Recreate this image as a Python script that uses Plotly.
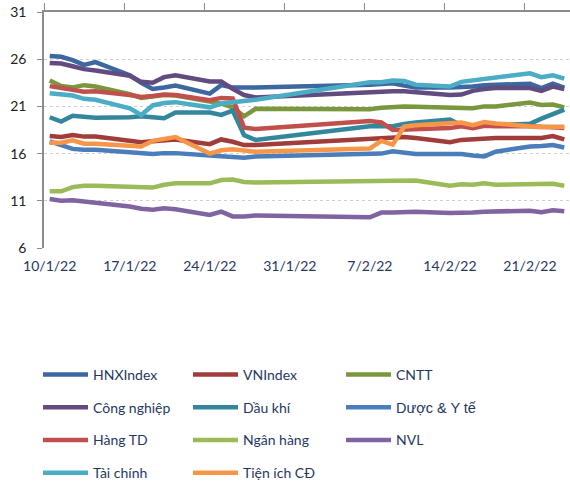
import plotly.graph_objects as go
import pandas as pd

dates = ["2022-01-10", "2022-01-11", "2022-01-12", "2022-01-13", "2022-01-14",
         "2022-01-17", "2022-01-18", "2022-01-19", "2022-01-20", "2022-01-21",
         "2022-01-24", "2022-01-25", "2022-01-26", "2022-01-27", "2022-01-28",
         "2022-02-07", "2022-02-08", "2022-02-09", "2022-02-10", "2022-02-11",
         "2022-02-14", "2022-02-15", "2022-02-16", "2022-02-17", "2022-02-18",
         "2022-02-21", "2022-02-22", "2022-02-23", "2022-02-24"]

hnx_index = [26.35, 26.25, 25.9, 25.4, 25.7, 24.3, 23.5, 22.85, 23.0, 23.2,
             22.35, 23.25, 23.0, 22.95, 23.0, 23.3, 23.4, 23.45, 23.2, 23.0,
             23.0, 23.0, 23.1, 23.25, 23.3, 23.4, 22.95, 23.4, 23.0]
vn_index = [17.87, 17.75, 17.97, 17.8, 17.8, 17.35, 17.2, 17.3, 17.45, 17.5,
            17.0, 17.5, 17.25, 16.9, 16.9, 17.6, 17.7, 17.75, 17.75, 17.65,
            17.2, 17.45, 17.55, 17.65, 17.65, 17.65, 17.65, 17.85, 17.5]
cntt = [23.75, 23.15, 23.0, 23.25, 23.1, 22.3, 21.9, 22.0, 22.2, 22.15,
        21.5, 21.3, 20.9, 19.95, 20.75, 20.7, 20.85, 20.95, 21.0, 20.95,
        20.8, 20.8, 20.8, 21.0, 21.0, 21.4, 21.15, 21.2, 20.9]
cong_nghiep = [25.6, 25.55, 25.25, 24.95, 24.8, 24.25, 23.6, 23.5, 24.1, 24.3,
               23.65, 23.65, 22.85, 22.2, 21.95, 22.55, 22.6, 22.6, 22.6, 22.5,
               22.2, 22.25, 22.65, 22.85, 22.95, 22.95, 22.65, 23.1, 22.85]
dau_khi = [19.85, 19.4, 20.0, 19.9, 19.8, 19.85, 19.95, 19.85, 19.75, 20.35,
           20.35, 20.1, 20.55, 17.95, 17.45, 18.9, 18.85, 18.9, 19.15, 19.3,
           19.6, 19.0, 18.9, 18.95, 18.95, 19.15, 19.7, 20.2, 20.65]
duoc_y_te = [17.3, 16.95, 16.5, 16.4, 16.4, 16.15, 16.0, 15.95, 16.05, 16.05,
             15.8, 15.75, 15.7, 15.55, 15.7, 15.9, 16.0, 16.25, 16.1, 15.95,
             15.95, 15.95, 15.8, 15.7, 16.2, 16.75, 16.8, 16.9, 16.65]
hang_td = [23.15, 22.9, 22.75, 22.55, 22.6, 22.2, 22.0, 22.1, 22.25, 22.2,
           21.65, 21.9, 21.85, 18.75, 18.6, 19.45, 19.3, 18.5, 18.55, 18.6,
           18.7, 18.9, 18.7, 18.95, 18.9, 18.9, 18.9, 18.8, 18.7]
ngan_hang = [12.0, 12.0, 12.45, 12.6, 12.6, 12.5, 12.5, 12.4, 12.7, 12.85,
             12.85, 13.2, 13.25, 13.0, 12.95, 13.15, 13.15, 13.15, 13.15, 13.15,
             12.6, 12.75, 12.7, 12.85, 12.7, 12.75, 12.8, 12.8, 12.6]
nvl = [11.18, 11.0, 11.05, 10.95, 10.8, 10.4, 10.15, 10.05, 10.2, 10.1,
       9.5, 9.85, 9.35, 9.35, 9.45, 9.25, 9.75, 9.75, 9.8, 9.85,
       9.7, 9.7, 9.75, 9.85, 9.85, 9.95, 9.8, 10.0, 9.9]
tai_chinh = [22.4, 22.25, 22.15, 21.8, 21.7, 20.8, 20.1, 21.1, 21.35, 21.45,
             20.9, 21.3, 21.45, 21.6, 21.7, 23.55, 23.55, 23.75, 23.7, 23.3,
             23.1, 23.6, 23.75, 23.9, 24.0, 24.5, 24.1, 24.3, 23.95]
tien_ich_cd = [17.15, 17.15, 17.4, 17.05, 17.05, 16.8, 16.75, 17.35, 17.55, 17.75,
               16.0, 16.35, 16.45, 16.3, 16.2, 16.55, 17.35, 16.95, 18.85, 19.0,
               19.3, 19.3, 19.0, 19.35, 19.2, 18.95, 18.8, 18.85, 18.85]

series_names = ["HNXIndex", "VNIndex", "CNTT", "Công nghiệp", "Dầu khí", "Dược & Y tế",
                "Hàng TD", "Ngân hàng", "NVL", "Tài chính", "Tiện ích CĐ"]
series_values = [hnx_index, vn_index, cntt, cong_nghiep, dau_khi, duoc_y_te,
                 hang_td, ngan_hang, nvl, tai_chinh, tien_ich_cd]
colors = ["#3C67A1", "#A03D3B", "#7A973E", "#624B7E", "#33879C", "#4A7EBB",
          "#C1504D", "#9BBB59", "#8064A2", "#4BACC6", "#F79646"]

tick_dates = ["2022-01-10", "2022-01-17", "2022-01-24", "2022-01-31",
              "2022-02-07", "2022-02-14", "2022-02-21"]
tick_labels = ["10/1/22", "17/1/22", "24/1/22", "31/1/22", "7/2/22", "14/2/22", "21/2/22"]
y_ticks = [6, 11, 16, 21, 26, 31]

FONT = "Lato"
NAVY = "#1F3864"
AXIS = "#8C8C8C"

# legend columns (entries read row by row across three columns)
legend_ids = ["legend", "legend2", "legend3"] * 4

fig = go.Figure()
for i, (name, vals, col) in enumerate(zip(series_names, series_values, colors)):
    label = name
    if name == "Dược & Y tế":
        label = "<span style='font-family:Liberation Sans;font-size:14.5px'>Dược & Y tế</span>"
    fig.add_trace(go.Scatter(x=dates, y=vals, mode="lines", name=label, legendgroup=name,
                             line=dict(color=col, width=4.5), legend=legend_ids[i]))

# helper trace for the top tick axis
tick_marks = [(pd.Timestamp(d) - pd.Timedelta(hours=12)).strftime("%Y-%m-%d %H:%M") for d in tick_dates]
fig.add_trace(go.Scatter(x=tick_marks, y=[None] * len(tick_marks), xaxis="x2", mode="lines",
                         showlegend=False, hoverinfo="skip"))

x_range = ["2022-01-09 12:00", "2022-02-24 12:00"]

fig.update_layout(
    width=570, height=485,
    margin=dict(l=44, r=0, t=12, b=237, autoexpand=False),
    paper_bgcolor="white", plot_bgcolor="white",
    font=dict(family=FONT, size=14, color=NAVY),
    xaxis=dict(type="date", range=x_range, tickvals=tick_dates, ticktext=tick_labels,
               showgrid=False, showline=False, ticks="", zeroline=False,
               tickfont=dict(family=FONT, size=14, color=NAVY), ticklabelstandoff=8),
    xaxis2=dict(type="date", range=x_range, overlaying="x", side="top", anchor="y",
                tickvals=tick_marks, showticklabels=False, ticks="outside", ticklen=7,
                tickcolor=AXIS, tickwidth=1, showline=True, linecolor=AXIS, linewidth=1.5,
                showgrid=False, zeroline=False),
    yaxis=dict(range=[6, 31], tickvals=y_ticks, showline=True, linecolor=AXIS, linewidth=1.5,
               ticks="outside", ticklen=5, tickcolor=AXIS,
               showgrid=True, gridcolor="#D0D0D0", griddash="dot", gridwidth=1,
               zeroline=False, tickfont=dict(family=FONT, size=14, color="#222222"),
               ticklabelstandoff=8),
    showlegend=True,
)

legend_common = dict(orientation="v", xref="container", yref="container",
                     xanchor="left", yanchor="top", traceorder="grouped", tracegroupgap=11.5,
                     font=dict(family=FONT, size=14, color=NAVY), itemwidth=45,
                     bgcolor="rgba(0,0,0,0)", borderwidth=0)
col_x = [38, 188, 341]
top_y = 1 - 359 / 485
fig.update_layout(
    legend=dict(legend_common, x=col_x[0] / 570, y=top_y),
    legend2=dict(legend_common, x=col_x[1] / 570, y=top_y),
    legend3=dict(legend_common, x=col_x[2] / 570, y=top_y),
)

fig.write_html("out.html")
